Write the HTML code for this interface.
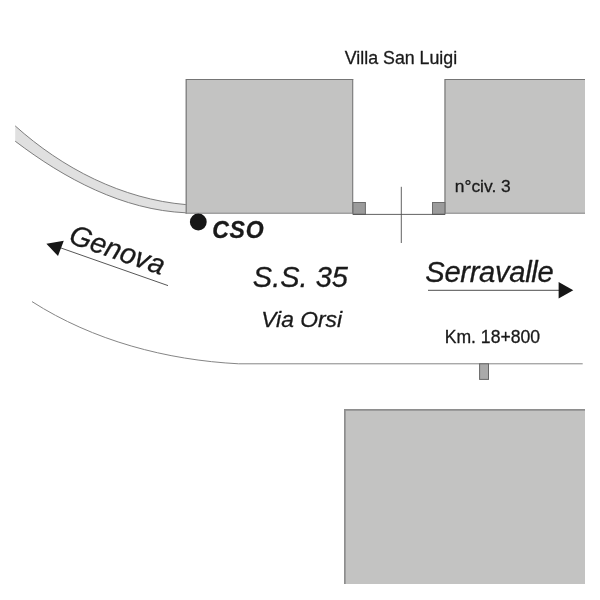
<!DOCTYPE html>
<html>
<head>
<meta charset="utf-8">
<title>Villa San Luigi - Mappa</title>
<style>
  html, body { margin: 0; padding: 0; background: #ffffff; }
  body { width: 600px; height: 600px; overflow: hidden; }
  svg { display: block; will-change: transform; }
  text { font-family: "Liberation Sans", sans-serif; fill: #1a1a1a; stroke: #1a1a1a; stroke-width: 0.3px; stroke-linejoin: round; }
  .it { font-style: italic; }
  .bi { font-style: italic; font-weight: bold; }
</style>
</head>
<body>
<svg width="600" height="600" viewBox="0 0 600 600">
  <rect x="0" y="0" width="600" height="600" fill="#ffffff"/>

  <!-- curved sidewalk band (upper left) -->
  <path d="M15.2 125.9 C 62.3 168.3, 122.2 199.2, 186 204.6 L186 212.8 C 123 210.1, 64.5 178.7, 15.2 141.2 Z"
        fill="#e0e0e0" stroke="none"/>
  <path d="M15.2 125.9 C 62.3 168.3, 122.2 199.2, 186 204.6" fill="none" stroke="#707070" stroke-width="0.9"/>
  <path d="M15.2 141.2 C 64.5 178.7, 123 210.1, 186 212.8" fill="none" stroke="#707070" stroke-width="0.9"/>

  <!-- building top-left -->
  <rect x="185.7" y="79" width="167.5" height="134.7" fill="#c3c3c2"/>
  <path d="M186.2 213.7 V79.5 H353.2" fill="none" stroke="#757575" stroke-width="1.1"/>
  <path d="M352.7 79 V213.7" fill="none" stroke="#777" stroke-width="1"/>
  <path d="M185.7 213.2 H353" fill="none" stroke="#8a8a8a" stroke-width="1"/>

  <!-- building top-right -->
  <rect x="444.5" y="79" width="140.5" height="134.7" fill="#c3c3c2"/>
  <path d="M445 213.7 V79.5 H585" fill="none" stroke="#757575" stroke-width="1.1"/>
  <path d="M444.5 213.2 H585" fill="none" stroke="#8a8a8a" stroke-width="1"/>

  <!-- gate line + posts -->
  <rect x="353" y="202.5" width="12.4" height="11.8" fill="#9b9b9b" stroke="#6c6c6c" stroke-width="1"/>
  <rect x="432.5" y="202.5" width="12.4" height="11.8" fill="#9b9b9b" stroke="#6c6c6c" stroke-width="1"/>
  <path d="M353 214.4 H445" fill="none" stroke="#505050" stroke-width="0.9"/>
  <path d="M401.3 186.8 V243" fill="none" stroke="#505050" stroke-width="0.9"/>

  <!-- lower building -->
  <rect x="344" y="409" width="241" height="175" fill="#c3c3c2"/>
  <path d="M344.85 584 V409.95 H585" fill="none" stroke="#8e8e8e" stroke-width="1.7"/>

  <!-- lower road edge -->
  <path d="M32 301.6 C 93 340.7, 166.6 360.1, 238.7 363.8 H582.7" fill="none" stroke="#858585" stroke-width="1"/>
  <!-- km marker -->
  <rect x="479.6" y="363.8" width="8.9" height="15.6" fill="#aaaaaa" stroke="#666" stroke-width="1"/>

  <!-- black dot -->
  <circle cx="198.3" cy="222" r="8.4" fill="#161616"/>

  <!-- Genova arrow -->
  <path d="M61 248 L168 285.6" fill="none" stroke="#444" stroke-width="0.9"/>
  <path d="M46.4 243.7 L63.8 240.7 L58 255.9 Z" fill="#161616"/>
  <!-- Serravalle arrow -->
  <path d="M428 290.3 H560" fill="none" stroke="#3a3a3a" stroke-width="0.9"/>
  <path d="M573.3 290.3 L558.6 282.1 L558.6 298.5 Z" fill="#161616"/>

  <!-- texts -->
  <text x="344.8" y="63.5" font-size="17.8">Villa San Luigi</text>
  <text x="454.8" y="191.7" font-size="17.4">n°civ. 3</text>
  <text x="444.7" y="342.6" font-size="17.6">Km. 18+800</text>
  <text class="bi" x="212.3" y="238" font-size="23" letter-spacing="0.7">CSO</text>
  <text class="it" x="252.8" y="286.8" font-size="29">S.S. 35</text>
  <text class="it" x="261.3" y="326.7" font-size="22.8">Via Orsi</text>
  <text class="it" x="425.3" y="282.3" font-size="29.2" letter-spacing="-0.33">Serravalle</text>
  <text class="it" transform="translate(67.4,242.6) rotate(19.2)" x="0" y="0" font-size="28.3">Genova</text>
</svg>
</body>
</html>
